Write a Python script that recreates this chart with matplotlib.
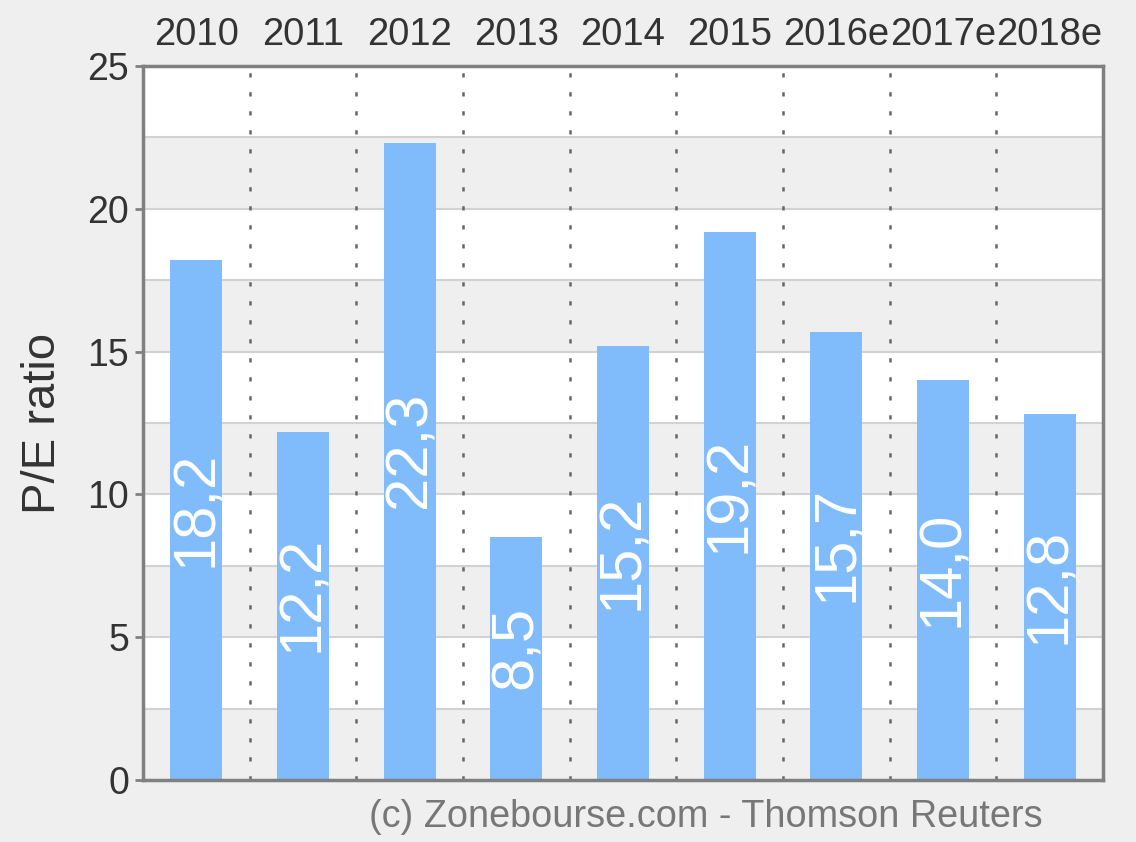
import numpy as np
import matplotlib.pyplot as plt
from matplotlib.patches import Rectangle

# Chart data
years = ["2010", "2011", "2012", "2013", "2014", "2015", "2016e", "2017e", "2018e"]
pe_ratio = [18.2, 12.2, 22.3, 8.5, 15.2, 19.2, 15.7, 14.0, 12.8]
bar_labels = ["18,2", "12,2", "22,3", "8,5", "15,2", "19,2", "15,7", "14,0", "12,8"]

plt.rcParams["font.family"] = ["Liberation Sans", "DejaVu Sans"]

fig = plt.figure(figsize=(11.36, 8.42), dpi=100, facecolor="#efefef")
ax = fig.add_axes([143 / 1136, 1 - 780 / 842, 960 / 1136, 714 / 842])

x = np.arange(len(years))
ax.set_xlim(-0.5, len(years) - 0.5)
ax.set_ylim(0, 25)

# Alternating horizontal bands
ax.set_facecolor("white")
for y0 in np.arange(0, 25, 5):
    ax.add_patch(Rectangle((-0.5, y0), len(years), 2.5, facecolor="#efefef",
                           edgecolor="none", zorder=0))
for yg in np.arange(2.5, 25, 2.5):
    ax.axhline(yg, color="#d2d2d2", lw=1.5, zorder=1)

# Dotted separators between categories
for xs in x[:-1] + 0.5:
    ax.axvline(xs, color="#666666", lw=1.8, ls=(0, (1.7, 5.9)), zorder=1)

ax.bar(x, pe_ratio, width=0.49, color="#80bcfc", zorder=2)

for xi, val, lab in zip(x, pe_ratio, bar_labels):
    ax.text(xi, val / 2 + 0.4, lab, rotation=90, ha="center", va="center",
            color="white", fontsize=43, zorder=3)

ax.xaxis.tick_top()
ax.set_xticks(x)
ax.set_xticklabels(years)
ax.tick_params(axis="x", length=0, pad=9, labelsize=27.5, labelcolor="#333333")
ax.set_yticks([0, 5, 10, 15, 20, 25])
ax.tick_params(axis="y", length=6, width=2, color="#808080", pad=4,
               labelsize=27, labelcolor="#333333")

for side in ["left", "right", "top", "bottom"]:
    ax.spines[side].set_color("#808080")
    ax.spines[side].set_linewidth(2.5)
    ax.spines[side].set_zorder(4)

ax.set_ylabel("P/E ratio", fontsize=34, color="#333333", labelpad=16)

fig.text(706 / 1136, 1 - 817 / 842, "(c) Zonebourse.com - Thomson Reuters",
         ha="center", va="center", fontsize=27.3, color="#777777")

plt.savefig("out.png", dpi=100, facecolor=fig.get_facecolor())
